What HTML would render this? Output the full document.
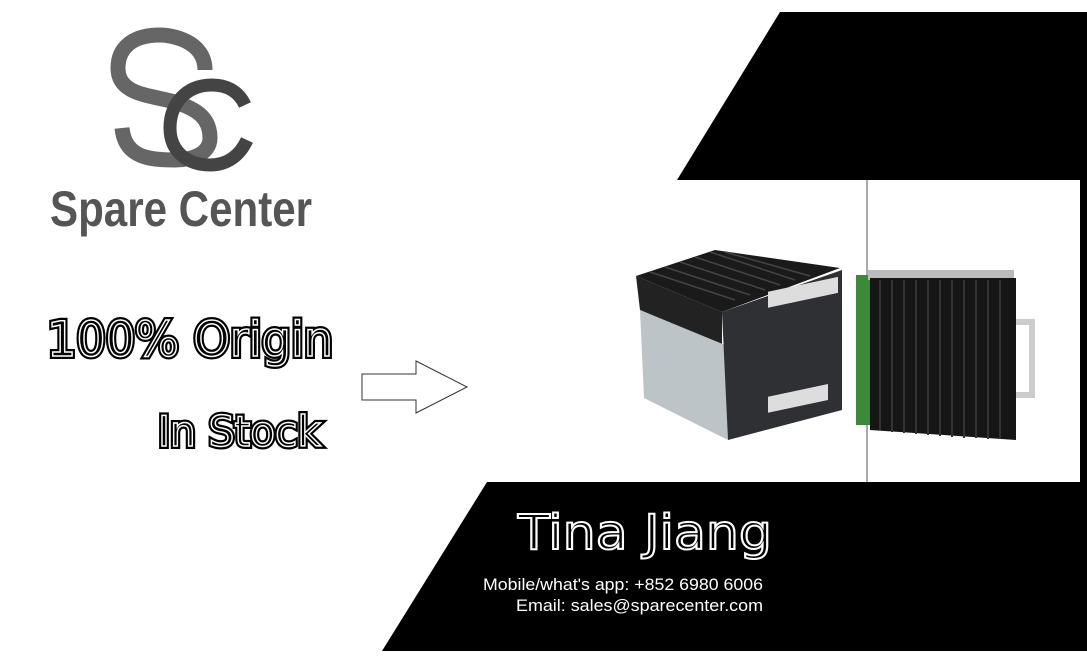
<!DOCTYPE html>
<html><head><meta charset="utf-8"><style>
html,body{margin:0;padding:0;background:#fff;width:1087px;height:662px;overflow:hidden}
</style></head><body>
<svg width="1087" height="662" viewBox="0 0 1087 662" xmlns="http://www.w3.org/2000/svg" font-family="Liberation Sans, DejaVu Sans, sans-serif">
<polygon points="780,12 1087,12 1087,180 677,180" fill="#000"/>
<rect x="1080" y="180" width="7" height="302" fill="#000"/>
<line x1="867" y1="180" x2="867" y2="482" stroke="#555" stroke-width="1"/>
<polygon points="487,482 1087,482 1087,651 382,651" fill="#000"/>

<path d="M205,70 C205,40 170,35 160,35 C130,35 118,50 118,68 C118,95 150,95 175,102 C200,110 210,120 210,138 C210,155 190,160 175,160 C150,160 125,158 122,128" fill="none" stroke="#666" stroke-width="15"/>
<path d="M245,105 C238,90 225,85 212,85 C185,85 170,105 170,128 C170,152 188,165 210,165 C228,165 240,155 247,140" fill="none" stroke="#444" stroke-width="13"/>
<text x="50" y="226" font-size="50" font-weight="bold" fill="#555" textLength="262" lengthAdjust="spacingAndGlyphs">Spare Center</text>

<g font-family="DejaVu Sans, sans-serif">
<text x="47" y="356" font-size="48" fill="#000" stroke="#000" stroke-width="6" textLength="286" lengthAdjust="spacingAndGlyphs">100% Origin</text>
<text x="47" y="356" font-size="48" fill="#000" stroke="#fff" stroke-width="1.5" textLength="286" lengthAdjust="spacingAndGlyphs">100% Origin</text>
<text x="158" y="446" font-size="42" fill="#000" stroke="#000" stroke-width="6" textLength="163" lengthAdjust="spacingAndGlyphs">In Stock</text>
<text x="158" y="446" font-size="42" fill="#000" stroke="#fff" stroke-width="1.5" textLength="163" lengthAdjust="spacingAndGlyphs">In Stock</text>
<text x="518" y="549" font-size="48" fill="#000" stroke="#fff" stroke-width="2" textLength="254" lengthAdjust="spacingAndGlyphs">Tina Jiang</text>
</g>

<polygon points="362,374 416,374 416,361 467,387 416,413 416,400 362,400" fill="#fff" stroke="#333" stroke-width="1"/>

<polygon points="636,276 715,250 840,268 722,312" fill="#1a1a1a"/>
<g stroke="#444" stroke-width="1.5">
<line x1="650" y1="272" x2="735" y2="300"/><line x1="665" y1="267" x2="750" y2="295"/>
<line x1="680" y1="262" x2="765" y2="290"/><line x1="695" y1="257" x2="780" y2="285"/>
<line x1="710" y1="252" x2="795" y2="280"/><line x1="725" y1="252" x2="810" y2="276"/>
</g>
<polygon points="636,276 722,312 722,345 640,310" fill="#222"/>
<polygon points="640,310 725,345 728,440 644,398" fill="#bcc4c8"/>
<polygon points="722,312 842,270 842,410 728,440" fill="#2e3033"/>
<rect x="768" y="295" width="70" height="16" fill="#ddd" transform="skewY(-12) translate(0,160)"/>
<rect x="768" y="390" width="60" height="16" fill="#ddd" transform="skewY(-12) translate(0,170)"/>
<rect x="856" y="275" width="20" height="150" fill="#3a8a3a"/>
<rect x="868" y="270" width="146" height="10" fill="#bbb"/>
<polygon points="870,278 1016,278 1016,440 870,430" fill="#151515"/>
<g stroke="#333" stroke-width="2">
<line x1="880" y1="280" x2="880" y2="430"/><line x1="892" y1="280" x2="892" y2="432"/>
<line x1="904" y1="280" x2="904" y2="433"/><line x1="916" y1="280" x2="916" y2="434"/>
<line x1="928" y1="280" x2="928" y2="435"/><line x1="940" y1="280" x2="940" y2="436"/>
<line x1="952" y1="280" x2="952" y2="437"/><line x1="964" y1="280" x2="964" y2="438"/>
<line x1="976" y1="280" x2="976" y2="438"/><line x1="988" y1="280" x2="988" y2="439"/>
<line x1="1000" y1="280" x2="1000" y2="439"/>
</g>
<path d="M1016,322 H1032 V395 H1016" fill="none" stroke="#ccc" stroke-width="6"/>

<text x="483" y="590" font-size="17" fill="#fff" textLength="280" lengthAdjust="spacingAndGlyphs">Mobile/what's app: +852 6980 6006</text>
<text x="516" y="611" font-size="17" fill="#fff" textLength="247" lengthAdjust="spacingAndGlyphs">Email: sales@sparecenter.com</text>
</svg>
</body></html>
